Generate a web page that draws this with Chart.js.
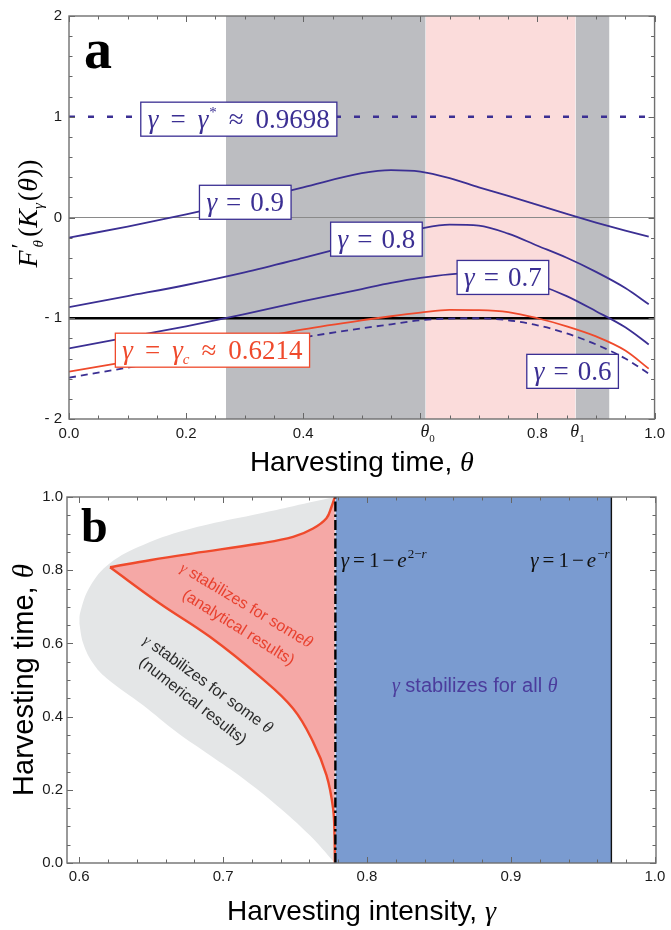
<!DOCTYPE html>
<html>
<head>
<meta charset="utf-8">
<script src="https://cdn.jsdelivr.net/npm/chart.js@4.4.0/dist/chart.umd.min.js"></script>
<style>
  body { margin: 0; background: #fff; }
  #wrap { position: relative; width: 671px; height: 930px; }
  #boxA { position: absolute; left: 0; top: 0; width: 671px; height: 482px; }
  #boxB { position: absolute; left: 0; top: 482px; width: 671px; height: 448px; }
</style>
</head>
<body>
<div id="wrap">
  <div id="boxA"><canvas id="chartA"></canvas></div>
  <div id="boxB"><canvas id="chartB"></canvas></div>
</div>
<script>
const SANS = '"Liberation Sans", Arial, sans-serif';
const SERIF = '"Liberation Serif", "Times New Roman", serif';
const BLUE = "#3b2f93";
const RED = "#ef4a2c";

// ---- panel a: F'(K(theta)) against harvesting time ----
const thetaA = [0, 0.1, 0.2, 0.3, 0.4, 0.5, 0.55, 0.6, 0.65, 0.7, 0.75, 0.8, 0.85, 0.9, 0.95, 0.99];
const curve09 = [-0.20, -0.09, 0.03, 0.16, 0.30, 0.44, 0.47, 0.455, 0.39, 0.30, 0.215, 0.125, 0.035, -0.05, -0.13, -0.19];
const curve08 = [-0.89, -0.78, -0.67, -0.545, -0.40, -0.25, -0.18, -0.11, -0.07, -0.08, -0.16, -0.28, -0.40, -0.54, -0.70, -0.86];
const curve07 = [-1.30, -1.19, -1.08, -0.96, -0.83, -0.71, -0.65, -0.60, -0.565, -0.55, -0.58, -0.665, -0.78, -0.93, -1.09, -1.26];
const curveC = [-1.53, -1.43, -1.33, -1.22, -1.11, -1.02, -0.98, -0.945, -0.917, -0.92, -0.94, -1.0, -1.08, -1.18, -1.32, -1.50];
const curve06 = [-1.59, -1.49, -1.39, -1.29, -1.19, -1.10, -1.06, -1.02, -1.003, -1.0, -1.02, -1.07, -1.15, -1.26, -1.40, -1.55];

const gammaStar = 0.9698;
const theta0 = 0.609;
const theta1 = 0.865;
const grayStart = 0.268;
const grayEnd = 0.923;

const xTickValsA = [0, 0.2, 0.4, theta0, 0.8, theta1, 1.0];
const xTickLabelsA = ["0.0", "0.2", "0.4", "θ0", "0.8", "θ1", "1.0"];
const yTickValsA = [-2, -1, 0, 1, 2];
const yTickLabelsA = ["- 2", "- 1", "0", "1", "2"];

// ---- panel b: stability regions ----
const gammaGrayUpper = [0.6000, 0.6005, 0.6074, 0.6213, 0.6444, 0.6792, 0.7255, 0.7486, 0.7776];
const thetaGrayUpper = [0.655, 0.682, 0.755, 0.819, 0.869, 0.915, 0.955, 0.975, 1.0];
const gammaGrayLower = [0.6000, 0.6028, 0.6097, 0.6190, 0.6444, 0.6676, 0.6908, 0.7139, 0.7371, 0.7602, 0.7776];
const thetaGrayLower = [0.655, 0.600, 0.545, 0.505, 0.431, 0.358, 0.2945, 0.231, 0.158, 0.0757, 0.0];
const gammaRedUpper = [0.6214, 0.6500, 0.6792, 0.7255, 0.7486, 0.7625, 0.7718, 0.7753, 0.7776];
const thetaRedUpper = [0.808, 0.828, 0.846, 0.873, 0.891, 0.914, 0.942, 0.9735, 1.0];
const gammaRedLower = [0.6214, 0.656, 0.6908, 0.7255, 0.7486, 0.7625, 0.7718, 0.7764, 0.7774, 0.7776];
const thetaRedLower = [0.808, 0.709, 0.618, 0.509, 0.422, 0.331, 0.240, 0.149, 0.070, 0.0];
const gammaBound = 0.778; // 1 - e^(2-r)

const xTickValsB = [0.6, 0.7, 0.8, 0.9, 1.0];
const xTickLabelsB = ["0.6", "0.7", "0.8", "0.9", "1.0"];
const yTickValsB = [0, 0.2, 0.4, 0.6, 0.8, 1.0];
const yTickLabelsB = ["0.0", "0.2", "0.4", "0.6", "0.8", "1.0"];

// ---- helpers ----
const pts = (xs, ys) => xs.map((x, i) => ({ x: x, y: ys[i] }));
const it = (t, s, dy, g) => ({ t: t, f: `italic ${s}px ${SERIF}`, dy: dy || 0, g: g || 0 });
const rm = (t, s, dy, g) => ({ t: t, f: `${s}px ${SERIF}`, dy: dy || 0, g: g || 0 });
const sf = (t, s, dy, g) => ({ t: t, f: `${s}px ${SANS}`, dy: dy || 0, g: g || 0 });

function measureRich(ctx, parts) {
  let w = 0;
  parts.forEach((p) => {
    ctx.font = p.f;
    p.w = ctx.measureText(p.t).width;
    w += p.g;
    if (!p.stay) w += p.w;
  });
  return w;
}

// draws a run of mixed-font text, baseline at (x, y)
function rich(ctx, parts, x, y, opt) {
  opt = opt || {};
  ctx.save();
  const w = measureRich(ctx, parts);
  ctx.translate(x, y);
  if (opt.rot) ctx.rotate(opt.rot);
  let cx = opt.align === "left" ? 0 : opt.align === "right" ? -w : -w / 2;
  ctx.fillStyle = opt.color || "#000";
  ctx.textAlign = "left";
  ctx.textBaseline = "alphabetic";
  parts.forEach((p) => {
    cx += p.g;
    ctx.font = p.f;
    ctx.fillText(p.t, cx, p.dy);
    if (!p.stay) cx += p.w;
  });
  ctx.restore();
}

function boxLabel(ctx, parts, cx, cy, color) {
  const w = measureRich(ctx, parts) + 14;
  const h = 34;
  ctx.save();
  ctx.fillStyle = "#fff";
  ctx.strokeStyle = color;
  ctx.lineWidth = 1.3;
  ctx.fillRect(cx - w / 2, cy - h / 2, w, h);
  ctx.strokeRect(cx - w / 2, cy - h / 2, w, h);
  ctx.restore();
  rich(ctx, parts, cx, cy + 9, { color: color });
}

function each(min, max, step, fn) {
  const n0 = Math.ceil(min / step - 1e-6);
  const n1 = Math.floor(max / step + 1e-6);
  for (let n = n0; n <= n1; n++) fn(n * step);
}

// Mathematica style frame with inward ticks on all four sides
const frameTicks = {
  id: "frameTicks",
  afterDatasetsDraw(chart, args, o) {
    const { ctx, chartArea: a, scales: { x, y } } = chart;
    ctx.save();
    ctx.strokeStyle = "#666";
    ctx.lineWidth = 1;
    ctx.beginPath();
    const tx = (step, len) => each(x.min, x.max, step, (v) => {
      const p = Math.round(x.getPixelForValue(v)) + 0.5;
      ctx.moveTo(p, a.bottom); ctx.lineTo(p, a.bottom - len);
      ctx.moveTo(p, a.top); ctx.lineTo(p, a.top + len);
    });
    const ty = (step, len) => each(y.min, y.max, step, (v) => {
      const p = Math.round(y.getPixelForValue(v)) + 0.5;
      ctx.moveTo(a.left, p); ctx.lineTo(a.left + len, p);
      ctx.moveTo(a.right, p); ctx.lineTo(a.right - len, p);
    });
    tx(o.xMinor, 3.5); tx(o.xMajor, 6);
    ty(o.yMinor, 3.5); ty(o.yMajor, 6);
    ctx.stroke();
    ctx.strokeStyle = "#707070";
    ctx.lineWidth = 1.4;
    ctx.strokeRect(a.left, a.top, a.right - a.left, a.bottom - a.top);
    ctx.restore();
  },
};

function lineSet(data, color, width, extra) {
  return Object.assign({
    data: data,
    showLine: true,
    pointRadius: 0,
    borderColor: color,
    borderWidth: width,
    fill: false,
    order: 0,
  }, extra || {});
}

function band(x0, x1, top, color, order) {
  return lineSet([{ x: x0, y: top }, { x: x1, y: top }], "rgba(0,0,0,0)", 1, {
    fill: "start", backgroundColor: color, order: order,
  });
}

function axisOpts(min, max, vals, labels, pad) {
  return {
    type: "linear",
    min: min,
    max: max,
    afterBuildTicks: (s) => { s.ticks = vals.map((v) => ({ value: v })); },
    ticks: {
      autoSkip: false,
      maxRotation: 0,
      padding: pad,
      color: "#1a1a1a",
      font: { family: SANS, size: 15 },
      callback: (v, i) => (labels[i].startsWith("θ") ? "" : labels[i]),
    },
    grid: { display: false, drawTicks: false },
    border: { display: false },
  };
}

// ---------------- chart a ----------------
const tA = (vals) => pts(thetaA, vals);
const mono = { cubicInterpolationMode: "monotone" };

const xA = axisOpts(0, 1, xTickValsA, xTickLabelsA, 6);
xA.afterFit = (s) => { s.height = 63; };
const yA = axisOpts(-2, 2, yTickValsA, yTickLabelsA, 7);
yA.afterFit = (s) => { s.width = 69; };

const S = 27;
const labelsA = [
  { x: 0.290, y: 0.976, color: BLUE, parts: [it("γ", S), rm("=", S, 0, 12), it("γ", S, 0, 12), rm("*", 15, -11, 1), rm("≈", S, 0, 12), rm("0.9698", S, 0, 12)] },
  { x: 0.301, y: 0.151, color: BLUE, parts: [it("γ", S), rm("=", S, 0, 9), rm("0.9", S, 0, 9)] },
  { x: 0.525, y: -0.215, color: BLUE, parts: [it("γ", S), rm("=", S, 0, 9), rm("0.8", S, 0, 9)] },
  { x: 0.741, y: -0.595, color: BLUE, parts: [it("γ", S), rm("=", S, 0, 9), rm("0.7", S, 0, 9)] },
  { x: 0.860, y: -1.527, color: BLUE, parts: [it("γ", S), rm("=", S, 0, 9), rm("0.6", S, 0, 9)] },
  { x: 0.245, y: -1.317, color: RED, parts: [it("γ", S), rm("=", S, 0, 12), it("γ", S, 0, 12), it("c", 15, 5, 0), rm("≈", S, 0, 12), rm("0.6214", S, 0, 12)] },
];

const prime = Object.assign(rm("′", 24, -10, 2), { stay: true });

const annotA = {
  id: "annotA",
  afterDatasetsDraw(chart) {
    const { ctx, chartArea: a, scales: { x, y } } = chart;
    labelsA.forEach((l) => boxLabel(ctx, l.parts, x.getPixelForValue(l.x), y.getPixelForValue(l.y), l.color));
    // theta_0 and theta_1 tick labels
    xTickValsA.forEach((v, i) => {
      const lab = xTickLabelsA[i];
      if (!lab.startsWith("θ")) return;
      rich(ctx, [it("θ", 18), rm(lab.slice(1), 11, 5)], x.getPixelForValue(v) + 2, a.bottom + 18, { color: "#1a1a1a" });
    });
    // panel letter
    ctx.save();
    ctx.font = `bold 56px ${SERIF}`;
    ctx.fillStyle = "#000";
    ctx.fillText("a", a.left + 15, a.top + 52);
    ctx.restore();
    // axis titles
    const cx = (a.left + a.right) / 2;
    rich(ctx, [sf("Harvesting time, ", 28), it("θ", 28)], cx, 471, { color: "#000" });
    rich(ctx, [it("F", 28), prime, it("θ", 15, 6, 1), rm("(", 28, 0, 3), it("K", 28),
      it("γ", 15, 6), rm("(", 28, 0, 2), it("θ", 28), rm("))", 28)],
      37, (a.top + a.bottom) / 2 - 4, { color: "#000", rot: -Math.PI / 2 });
  },
};

new Chart(document.getElementById("chartA"), {
  type: "scatter",
  data: {
    datasets: [
      lineSet(tA(curve09), BLUE, 1.8, mono),
      lineSet(tA(curve08), BLUE, 1.8, mono),
      lineSet(tA(curve07), BLUE, 1.8, mono),
      lineSet(tA(curveC), RED, 1.8, mono),
      lineSet(tA(curve06), BLUE, 1.8, Object.assign({ borderDash: [7, 5] }, mono)),
      lineSet([{ x: 0, y: 1 }, { x: 1, y: 1 }], BLUE, 2.6, { borderDash: [6, 13], order: 1 }),
      lineSet([{ x: 0, y: -1 }, { x: 1, y: -1 }], "#000", 2.6, { order: 15 }),
      lineSet([{ x: 0, y: 0 }, { x: 1, y: 0 }], "#8a8a8a", 1.2, { order: 20 }),
      band(grayStart, theta0, 2, "#bcbdc1", 30),
      band(theta0, theta1, 2, "#fbdcdb", 30),
      band(theta1, grayEnd, 2, "#bcbdc1", 30),
    ],
  },
  options: {
    responsive: true,
    maintainAspectRatio: false,
    animation: false,
    layout: { padding: { left: 0, right: 16, top: 10, bottom: 0 } },
    plugins: {
      legend: { display: false },
      tooltip: { enabled: false },
      frameTicks: { xMinor: 0.05, xMajor: 0.2, yMinor: 0.2, yMajor: 1 },
    },
    scales: { x: xA, y: yA },
  },
  plugins: [frameTicks, annotA],
});

// ---------------- chart b ----------------
const xB = axisOpts(0.5915, 1.0008, xTickValsB, xTickLabelsB, 5);
xB.afterFit = (s) => { s.height = 67; };
const yB = axisOpts(0, 1, yTickValsB, yTickLabelsB, 4);
yB.afterFit = (s) => { s.width = 67; };

const smooth = { tension: 0.4 };
const deg = (d) => (d * Math.PI) / 180;
const annotB = {
  id: "annotB",
  afterDatasetsDraw(chart) {
    const { ctx, chartArea: a, scales: { x, y } } = chart;
    const at = (g, t) => [x.getPixelForValue(g), y.getPixelForValue(t)];
    const put = (parts, g, t, opt) => { const p = at(g, t); rich(ctx, parts, p[0], p[1], opt); };
    const redT = "#e8402e";
    put([it("γ", 15), sf(" stabilizes for some", 16), it("θ", 17)], 0.7144, 0.693, { color: redT, rot: deg(31) });
    put([sf("(analytical results)", 16)], 0.7088, 0.632, { color: redT, rot: deg(32) });
    put([it("γ", 15), sf(" stabilizes for some ", 16), it("θ", 17)], 0.6874, 0.478, { color: "#2a2a2a", rot: deg(36) });
    put([sf("(numerical results)", 16)], 0.6769, 0.433, { color: "#2a2a2a", rot: deg(38) });
    put([it("γ", 20), sf(" stabilizes for all ", 20), it("θ", 20)], 0.8748, 0.4676, { color: "#4b3c9c" });
    const M = 21;
    put([it("γ", M), rm("=", M, 0, 4), rm("1", M, 0, 4), rm("−", M, 0, 3), it("e", M, 0, 3), rm("2−", 13, -9, 1), it("r", 13, -9)],
      0.7818, 0.8095, { color: "#111", align: "left" });
    put([it("γ", M), rm("=", M, 0, 4), rm("1", M, 0, 4), rm("−", M, 0, 3), it("e", M, 0, 3), rm("−", 13, -9, 1), it("r", 13, -9)],
      0.9685, 0.8095, { color: "#111", align: "right" });
    // panel letter
    ctx.save();
    ctx.font = `bold 48px ${SERIF}`;
    ctx.fillStyle = "#000";
    ctx.fillText("b", a.left + 14, a.top + 45);
    ctx.restore();
    // axis titles
    rich(ctx, [sf("Harvesting intensity, ", 28), it("γ", 28)], (a.left + a.right) / 2, 438, { color: "#000" });
    rich(ctx, [sf("Harvesting time, ", 29), it("θ", 29)], 33, (a.top + a.bottom) / 2, { color: "#000", rot: -Math.PI / 2 });
  },
};

new Chart(document.getElementById("chartB"), {
  type: "scatter",
  data: {
    datasets: [
      // 0,1: numerical region
      lineSet(pts(gammaGrayUpper, thetaGrayUpper), "rgba(0,0,0,0)", 1, Object.assign({ order: 30 }, smooth)),
      lineSet(pts(gammaGrayLower, thetaGrayLower), "rgba(0,0,0,0)", 1, Object.assign({ order: 30, fill: 0, backgroundColor: "#e4e6e7" }, smooth)),
      // 2: all theta region
      band(gammaBound, gammaStar, 1, "#7a9bd0", 25),
      // 3,4: analytical region
      lineSet(pts(gammaRedUpper, thetaRedUpper), RED, 2.4, Object.assign({ order: 4 }, smooth)),
      lineSet(pts(gammaRedLower, thetaRedLower), RED, 2.4, Object.assign({ order: 5, fill: 3, backgroundColor: "#f5a8a6" }, smooth)),
      lineSet([{ x: gammaBound, y: 0 }, { x: gammaBound, y: 1 }], "#000", 2.4, { borderDash: [10, 3, 2.5, 3], order: 1 }),
      lineSet([{ x: gammaStar, y: 0 }, { x: gammaStar, y: 1 }], "#111", 1.4, { order: 1 }),
    ],
  },
  options: {
    responsive: true,
    maintainAspectRatio: false,
    animation: false,
    layout: { padding: { left: 0, right: 15, top: 15, bottom: 0 } },
    plugins: {
      legend: { display: false },
      tooltip: { enabled: false },
      frameTicks: { xMinor: 0.02, xMajor: 0.1, yMinor: 0.05, yMajor: 0.2 },
    },
    scales: { x: xB, y: yB },
  },
  plugins: [frameTicks, annotB],
});
</script>
</body>
</html>
